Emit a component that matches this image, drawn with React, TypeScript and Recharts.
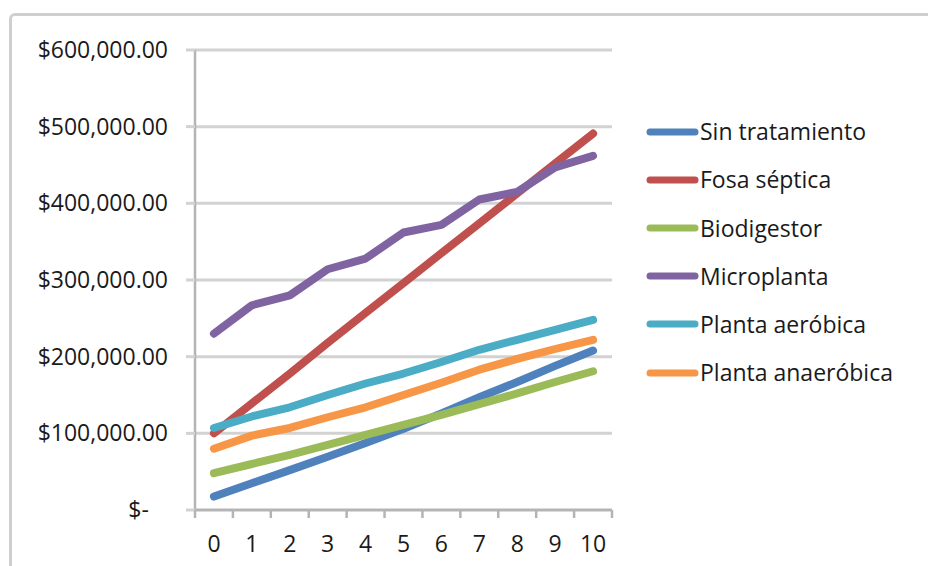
import React from 'react';
import { LineChart, Line, XAxis, YAxis, CartesianGrid, Legend } from 'recharts';

const CATEGORIES = [0, 1, 2, 3, 4, 5, 6, 7, 8, 9, 10];

const SIN_TRATAMIENTO = [17500, 35000, 52000, 69500, 87500, 106000, 126000, 147000, 167000, 188000, 208000];
const FOSA_SEPTICA = [100000, 139000, 178000, 218000, 257000, 296000, 335000, 374000, 413000, 452000, 491000];
const BIODIGESTOR = [48000, 60000, 72000, 85000, 98000, 111000, 124000, 138000, 152000, 167000, 181000];
const MICROPLANTA = [230000, 267000, 280000, 314000, 328000, 362000, 372000, 405000, 415000, 447000, 462000];
const PLANTA_AEROBICA = [107000, 122000, 134000, 150000, 165000, 178000, 193000, 209000, 222000, 235000, 248000];
const PLANTA_ANAEROBICA = [80000, 97000, 107000, 121000, 134000, 150000, 166000, 183000, 197000, 210000, 222000];

const SERIES_NAMES = ['Sin tratamiento', 'Fosa séptica', 'Biodigestor', 'Microplanta', 'Planta aeróbica', 'Planta anaeróbica'];
const SERIES_VALUES = [SIN_TRATAMIENTO, FOSA_SEPTICA, BIODIGESTOR, MICROPLANTA, PLANTA_AEROBICA, PLANTA_ANAEROBICA];
const SERIES_COLORS = ['#4F81BD', '#C0504D', '#9BBB59', '#8064A2', '#4BACC6', '#F79646'];

const Y_TICKS = [0, 100000, 200000, 300000, 400000, 500000, 600000];

const FONT = "'Open Sans', sans-serif";
const TEXT_COLOR = '#1a1a1a';
const GRID_COLOR = '#d2d2d2';
const AXIS_COLOR = '#b4b4b4';

const X_TICKS: number[] = [];
CATEGORIES.forEach((c) => {
  X_TICKS.push(c - 0.5);
  X_TICKS.push(c);
});
X_TICKS.push(CATEGORIES[CATEGORIES.length - 1] + 0.5);

const data = CATEGORIES.map((c, i) => {
  const row: Record<string, number> = { x: c };
  SERIES_VALUES.forEach((vals, s) => {
    row['s' + s] = vals[i];
  });
  return row;
});

const formatY = (v: number) =>
  v === 0
    ? '$-\u2007\u2008'
    : '$' + v.toLocaleString('en-US', { minimumFractionDigits: 2, maximumFractionDigits: 2 });

const XTick = (props: any) => {
  const { x, y, payload } = props;
  const v = payload.value;
  if (Number.isInteger(v)) {
    return (
      <text x={x} y={y} dy={42} textAnchor="middle" fill={TEXT_COLOR} fontSize={23} fontFamily={FONT}>
        {v}
      </text>
    );
  }
  return <line x1={x} y1={y} x2={x} y2={y + 8} stroke={AXIS_COLOR} strokeWidth={2.5} />;
};

const LegendBox = () => (
  <div style={{ fontFamily: FONT, fontSize: 23, color: TEXT_COLOR }}>
    {SERIES_NAMES.map((name, i) => (
      <div key={name} style={{ height: 48.2, display: 'flex', alignItems: 'center', whiteSpace: 'nowrap' }}>
        <svg width={57} height={12} style={{ display: 'block', flex: 'none' }}>
          <line x1={7} y1={6} x2={52} y2={6} stroke={SERIES_COLORS[i]} strokeWidth={7} strokeLinecap="round" />
        </svg>
        <span style={{ lineHeight: '1' }}>{name}</span>
      </div>
    ))}
  </div>
);

export default function App() {
  return (
    <div style={{ position: 'absolute', left: 0, top: 0, width: 928, height: 566, overflow: 'hidden', background: '#fff' }}>
      <div
        style={{
          position: 'absolute',
          left: 9,
          top: 13,
          width: 1000,
          height: 700,
          border: '3px solid #cfcfcf',
          borderRadius: 6,
          boxSizing: 'border-box',
        }}
      />
      <div style={{ position: 'absolute', left: 0, top: 0 }}>
        <LineChart width={928} height={566} data={data} margin={{ top: 50, right: 316, bottom: 0, left: 0 }}>
          <CartesianGrid vertical={false} stroke={GRID_COLOR} strokeWidth={3} />
          <XAxis
            dataKey="x"
            type="number"
            domain={[-0.5, 10.5]}
            ticks={X_TICKS}
            interval={0}
            height={56}
            tickSize={0}
            tickMargin={0}
            tickLine={false}
            axisLine={{ stroke: AXIS_COLOR, strokeWidth: 2.5 }}
            tick={<XTick />}
          />
          <YAxis
            type="number"
            domain={[0, 600000]}
            ticks={Y_TICKS}
            interval={0}
            width={195}
            tickSize={9}
            tickMargin={18}
            tickLine={{ stroke: GRID_COLOR, strokeWidth: 3 }}
            axisLine={{ stroke: AXIS_COLOR, strokeWidth: 2.5 }}
            tick={{ fill: TEXT_COLOR, fontSize: 23, fontFamily: FONT }}
            tickFormatter={formatY}
          />
          <Legend
            layout="horizontal"
            verticalAlign="middle"
            align="center"
            wrapperStyle={{ left: 643, top: 107.6, width: 280, height: 292 }}
            content={() => <LegendBox />}
          />
          {SERIES_NAMES.map((name, s) => (
            <Line
              key={name}
              type="linear"
              dataKey={'s' + s}
              name={name}
              stroke={SERIES_COLORS[s]}
              strokeWidth={8}
              strokeLinecap="round"
              strokeLinejoin="round"
              dot={false}
              activeDot={false}
              isAnimationActive={false}
            />
          ))}
        </LineChart>
      </div>
    </div>
  );
}
